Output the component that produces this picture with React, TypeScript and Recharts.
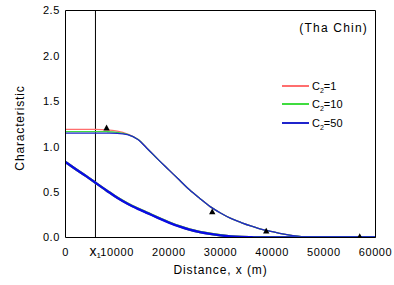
import React from 'react';
import { ComposedChart, Line, Scatter, XAxis, YAxis, ReferenceLine, Legend, Label } from 'recharts';

const distance = [0, 2000, 4000, 5800, 8000, 10000, 12000, 14000, 16000, 18000, 20000, 22000, 24000, 26000, 28000, 30000, 32000, 34000, 36000, 38000, 40000, 42000, 44000, 46000, 48000, 50000, 55000, 60000];

const redUpper = [1.19, 1.19, 1.19, 1.19, 1.186, 1.172, 1.14, 1.082, 0.97, 0.855, 0.745, 0.635, 0.525, 0.43, 0.34, 0.27, 0.21, 0.165, 0.125, 0.09, 0.065, 0.04, 0.02, 0.008, 0.002, 0, 0, 0];
const greenUpper = [1.167, 1.167, 1.167, 1.167, 1.165, 1.158, 1.136, 1.081, 0.97, 0.855, 0.745, 0.635, 0.525, 0.43, 0.34, 0.27, 0.21, 0.165, 0.125, 0.09, 0.065, 0.04, 0.02, 0.008, 0.002, 0, 0, 0];
const blueUpper = [1.15, 1.15, 1.15, 1.15, 1.149, 1.147, 1.132, 1.08, 0.97, 0.855, 0.745, 0.635, 0.525, 0.43, 0.34, 0.27, 0.21, 0.165, 0.125, 0.09, 0.065, 0.04, 0.02, 0.008, 0.002, 0, 0, 0];

const redLower = [0.83, 0.752, 0.676, 0.604, 0.516, 0.44, 0.375, 0.319, 0.268, 0.217, 0.168, 0.124, 0.088, 0.061, 0.041, 0.025, 0.012, 0.005, 0.002, 0, 0, 0, 0, 0, 0, 0, 0, 0];
const greenLower = [0.83, 0.752, 0.676, 0.604, 0.516, 0.44, 0.375, 0.319, 0.268, 0.217, 0.168, 0.124, 0.088, 0.061, 0.041, 0.025, 0.012, 0.005, 0.002, 0, 0, 0, 0, 0, 0, 0, 0, 0];
const blueLower = [0.83, 0.752, 0.676, 0.603, 0.515, 0.438, 0.372, 0.316, 0.265, 0.214, 0.165, 0.122, 0.086, 0.06, 0.04, 0.024, 0.012, 0.005, 0.002, 0, 0, 0, 0, 0, 0, 0, 0, 0];

const obsDistance = [7950, 28400, 38850, 56950];
const obsValue = [1.206, 0.283, 0.07, 0.008];

const x1Position = 5800;

const xMajorTicks = [0, 10000, 20000, 30000, 40000, 50000, 60000];
const xMinorTicks = [5000, 15000, 25000, 35000, 45000, 55000];
const yMajorTicks = [0, 0.5, 1.0, 1.5, 2.0, 2.5];
const yMinorTicks = [0.25, 0.75, 1.25, 1.75, 2.25];

const seriesNames = ['C2=1', 'C2=10', 'C2=50'];
const seriesColors = ['#ff6e6e', '#3fdc3f', '#1f24cc'];

const rows = distance.map((x, i) => ({
  x,
  rU: redUpper[i],
  gU: greenUpper[i],
  bU: blueUpper[i],
  rL: redLower[i],
  gL: greenLower[i],
  bL: blueLower[i],
}));

const observed = obsDistance.map((x, i) => ({ x, obs: obsValue[i] }));

const FONT = '"Liberation Sans", Arial, Helvetica, sans-serif';
const tickStyle = { fontSize: 11, fill: '#000', fontFamily: FONT, letterSpacing: 0.6 };

const Triangle = (props: any) => {
  const { cx, cy } = props;
  if (cx == null || cy == null) return null;
  return <polygon points={`${cx - 3.2},${cy + 2.4} ${cx + 3.2},${cy + 2.4} ${cx},${cy - 3.4}`} fill="#000" />;
};

const X1Label = (props: any) => {
  const vb = props.viewBox || {};
  return (
    <text x={vb.x - 6} y={vb.y + vb.height + 18} fontSize={14} fill="#000" fontFamily={FONT}>
      x<tspan fontSize={8} dy={2.5}>1</tspan>
    </text>
  );
};

const XTitle = (props: any) => {
  const vb = props.viewBox || {};
  return (
    <text x={vb.x + vb.width / 2} y={vb.y + 36.5} textAnchor="middle" fontSize={12} fill="#000" fontFamily={FONT} letterSpacing={0.9}>
      Distance, x (m)
    </text>
  );
};

const YTitle = (props: any) => {
  const vb = props.viewBox || {};
  const cx = 24;
  const cy = vb.y + vb.height / 2 + 4;
  return (
    <text x={cx} y={cy} transform={`rotate(-90 ${cx} ${cy})`} textAnchor="middle" fontSize={12} fill="#000" fontFamily={FONT} letterSpacing={0.85}>
      Characteristic
    </text>
  );
};

const LegendContent = (props: any) => {
  const items = (props.payload || []).filter((p: any) => p.type !== 'none');
  return (
    <div style={{ fontFamily: FONT, fontSize: 11, color: '#000' }}>
      {items.map((p: any) => (
        <div key={p.value} style={{ display: 'flex', alignItems: 'center', height: 18.6 }}>
          <div style={{ width: 27, height: 0, borderTop: `2px solid ${p.color}`, marginRight: 3 }} />
          <span>
            C<sub style={{ fontSize: 7, verticalAlign: 'sub', lineHeight: 0 }}>2</sub>
            {String(p.value).slice(2)}
          </span>
        </div>
      ))}
    </div>
  );
};

export default function App() {
  return (
    <div style={{ position: 'absolute', left: 0, top: 0, width: 394, height: 285, background: '#fff' }}>
      <ComposedChart
        width={394}
        height={285}
        data={rows}
        margin={{ top: 10.5, right: 18.5, bottom: 0, left: 0 }}
        style={{ fontFamily: FONT }}
      >
        <XAxis
          xAxisId={0}
          dataKey="x"
          type="number"
          domain={[0, 60000]}
          ticks={xMajorTicks}
          allowDataOverflow
          height={47.5}
          tickLine={false}
          tickSize={0}
          tickMargin={10.5}
          axisLine={{ stroke: '#000', strokeWidth: 1 }}
          tick={tickStyle}
          interval={0}
        >
          <Label content={XTitle} />
        </XAxis>
        <XAxis xAxisId="bmaj" dataKey="x" type="number" domain={[0, 60000]} ticks={xMajorTicks} allowDataOverflow mirror height={1} tick={false} tickSize={4} tickLine={{ stroke: '#000' }} axisLine={false} interval={0} />
        <XAxis xAxisId="bmin" dataKey="x" type="number" domain={[0, 60000]} ticks={xMinorTicks} allowDataOverflow mirror height={1} tick={false} tickSize={2} tickLine={{ stroke: '#000' }} axisLine={false} interval={0} />
        <XAxis xAxisId="tmaj" dataKey="x" orientation="top" type="number" domain={[0, 60000]} ticks={xMajorTicks} allowDataOverflow mirror height={1} tick={false} tickSize={4} tickLine={{ stroke: '#000' }} axisLine={{ stroke: '#000' }} interval={0} />
        <XAxis xAxisId="tmin" dataKey="x" orientation="top" type="number" domain={[0, 60000]} ticks={xMinorTicks} allowDataOverflow mirror height={1} tick={false} tickSize={2} tickLine={{ stroke: '#000' }} axisLine={false} interval={0} />

        <YAxis
          yAxisId={0}
          type="number"
          domain={[0, 2.5]}
          ticks={yMajorTicks}
          allowDataOverflow
          width={65.5}
          tickLine={false}
          tickSize={0}
          tickMargin={5.5}
          axisLine={{ stroke: '#000', strokeWidth: 1 }}
          tick={tickStyle}
          tickFormatter={(v: number) => v.toFixed(1)}
          interval={0}
        >
          <Label content={YTitle} />
        </YAxis>
        <YAxis yAxisId="lmaj" type="number" domain={[0, 2.5]} ticks={yMajorTicks} allowDataOverflow mirror width={1} tick={false} tickSize={4} tickLine={{ stroke: '#000' }} axisLine={false} interval={0} />
        <YAxis yAxisId="lmin" type="number" domain={[0, 2.5]} ticks={yMinorTicks} allowDataOverflow mirror width={1} tick={false} tickSize={2} tickLine={{ stroke: '#000' }} axisLine={false} interval={0} />
        <YAxis yAxisId="rmaj" orientation="right" type="number" domain={[0, 2.5]} ticks={yMajorTicks} allowDataOverflow mirror width={1} tick={false} tickSize={4} tickLine={{ stroke: '#000' }} axisLine={{ stroke: '#000' }} interval={0} />
        <YAxis yAxisId="rmin" orientation="right" type="number" domain={[0, 2.5]} ticks={yMinorTicks} allowDataOverflow mirror width={1} tick={false} tickSize={2} tickLine={{ stroke: '#000' }} axisLine={false} interval={0} />

        <ReferenceLine x={x1Position} stroke="#000" strokeWidth={1} label={X1Label} ifOverflow="visible" />

        <Line dataKey="rU" name={seriesNames[0]} stroke={seriesColors[0]} strokeWidth={1.3} dot={false} type="monotone" isAnimationActive={false} />
        <Line dataKey="gU" name={seriesNames[1]} stroke={seriesColors[1]} strokeWidth={1.3} dot={false} type="monotone" isAnimationActive={false} />
        <Line dataKey="bU" name={seriesNames[2]} stroke={seriesColors[2]} strokeWidth={1.3} dot={false} type="monotone" isAnimationActive={false} />
        <Line dataKey="rL" name="rL" legendType="none" stroke={seriesColors[0]} strokeWidth={2.4} dot={false} type="monotone" isAnimationActive={false} />
        <Line dataKey="gL" name="gL" legendType="none" stroke={seriesColors[1]} strokeWidth={2.4} dot={false} type="monotone" isAnimationActive={false} />
        <Line dataKey="bL" name="bL" legendType="none" stroke="#0a0ae6" strokeWidth={2.4} dot={false} type="monotone" isAnimationActive={false} />
        <Scatter data={observed} dataKey="obs" name="obs" legendType="none" shape={Triangle} isAnimationActive={false} />

        <Legend
          layout="vertical"
          align="center"
          verticalAlign="middle"
          content={LegendContent}
          wrapperStyle={{ position: 'absolute', left: 282, top: 76.5, width: 100 }}
        />
      </ComposedChart>
      <div style={{ position: 'absolute', right: 26, top: 21, fontFamily: FONT, fontSize: 12, color: '#000', lineHeight: '14px', letterSpacing: 1.2 }}>
        (Tha Chin)
      </div>
    </div>
  );
}
